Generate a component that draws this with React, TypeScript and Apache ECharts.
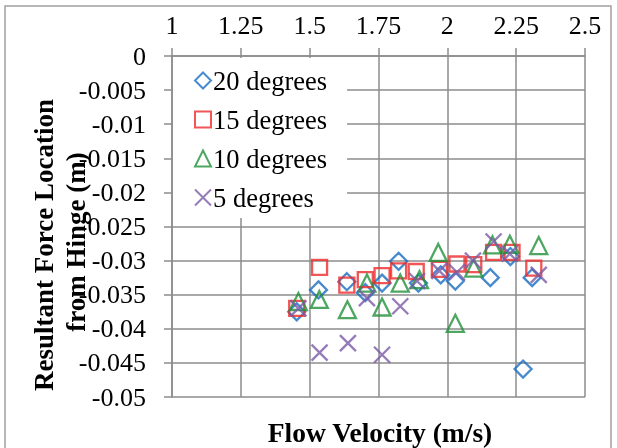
import React, { useEffect, useRef } from "react";
import * as echarts from "echarts";

const xTicks = [1, 1.25, 1.5, 1.75, 2, 2.25, 2.5];
const seriesNames = ["20 degrees", "15 degrees", "10 degrees", "5 degrees"];

const deg20X = [1.453, 1.532, 1.635, 1.702, 1.763, 1.823, 1.895, 1.976, 2.029, 2.156, 2.229, 2.275, 2.308];
const deg20Y = [-0.0375, -0.0343, -0.0331, -0.0347, -0.0333, -0.0301, -0.0333, -0.0321, -0.033, -0.0325, -0.0294, -0.0459, -0.0325];

const deg15X = [1.453, 1.536, 1.635, 1.702, 1.763, 1.823, 1.887, 1.971, 2.035, 2.096, 2.168, 2.235, 2.314];
const deg15Y = [-0.037, -0.031, -0.0336, -0.0328, -0.0322, -0.0315, -0.0316, -0.0313, -0.0305, -0.0306, -0.0288, -0.0288, -0.0311];

const deg10X = [1.459, 1.535, 1.637, 1.708, 1.763, 1.829, 1.899, 1.967, 2.029, 2.096, 2.164, 2.227, 2.332];
const deg10Y = [-0.036, -0.0357, -0.0372, -0.0333, -0.0368, -0.0333, -0.0328, -0.0288, -0.0392, -0.0311, -0.0277, -0.0276, -0.0278];

const deg5X = [1.459, 1.536, 1.639, 1.708, 1.763, 1.829, 1.89, 1.971, 2.035, 2.093, 2.168, 2.227, 2.332];
const deg5Y = [-0.037, -0.0435, -0.0421, -0.0355, -0.0438, -0.0367, -0.033, -0.0315, -0.0317, -0.03, -0.0272, -0.029, -0.0321];

const FONT = "'Liberation Serif', 'Times New Roman', serif";

function pairs(xs: number[], ys: number[]) {
  return xs.map((x, i) => [x, ys[i]]);
}

export default function App() {
  const ref = useRef<HTMLDivElement>(null);
  useEffect(() => {
    if (!ref.current) return;
    const chart = echarts.init(ref.current, null, { renderer: "svg" });
    const colors = ["#1a6dc2", "#ee2a2a", "#21913a", "#7b5ba6"];
    const symbols = ["diamond", "rect", "triangle", "path://M0,0L16,16M16,0L0,16"];
    const sizes: any[] = [[17, 17], [15, 15], [17, 17], [16, 16]];
    const datas = [pairs(deg20X, deg20Y), pairs(deg15X, deg15Y), pairs(deg10X, deg10Y), pairs(deg5X, deg5Y)];
    const gridColor = "#8c8c8c";
    chart.setOption({
      animation: false,
      grid: { left: 172, top: 56, width: 413, height: 341, containLabel: false },
      xAxis: {
        type: "value",
        position: "top",
        min: xTicks[0],
        max: xTicks[xTicks.length - 1],
        interval: 0.25,
        axisLine: { show: true, onZero: false, lineStyle: { color: gridColor, width: 1.5 } },
        axisTick: { show: true, length: 8, lineStyle: { color: gridColor, width: 1.5 } },
        splitLine: { show: true, lineStyle: { color: gridColor, width: 1.5 } },
        axisLabel: { fontFamily: FONT, fontSize: 26, color: "#000", margin: 18 },
      },
      yAxis: {
        type: "value",
        min: -0.05,
        max: 0,
        interval: 0.005,
        axisLine: { show: true, onZero: false, lineStyle: { color: gridColor, width: 1.5 } },
        axisTick: { show: true, length: 8, lineStyle: { color: gridColor, width: 1.5 } },
        splitLine: { show: true, lineStyle: { color: gridColor, width: 1.5 } },
        axisLabel: {
          fontFamily: FONT,
          fontSize: 26,
          color: "#000",
          margin: 26,
          formatter: (v: number) => String(parseFloat(v.toFixed(3))),
        },
      },
      legend: {
        orient: "vertical",
        left: 173,
        top: 58,
        backgroundColor: "#fff",
        padding: [9, 20, 7, 21],
        itemGap: 12,
        itemWidth: 16,
        itemHeight: 16,
        textStyle: { fontFamily: FONT, fontSize: 26.5, color: "#000", lineHeight: 25, padding: [0, 0, 0, -3] },
        data: seriesNames,
      },
      graphic: [
        {
          type: "rect",
          shape: { x: 5, y: 6, width: 606, height: 450 },
          style: { fill: "none", stroke: "#a0a0a0", lineWidth: 1.5 },
          silent: true,
        },
        {
          type: "text",
          x: 380,
          y: 432,
          style: {
            text: "Flow Velocity (m/s)",
            font: "bold 27.5px " + FONT,
            fill: "#000",
            textAlign: "center",
            textVerticalAlign: "middle",
          },
        },
        {
          type: "text",
          x: 44,
          y: 245,
          rotation: Math.PI / 2,
          style: {
            text: "Resultant Force Location",
            font: "bold 27px " + FONT,
            fill: "#000",
            textAlign: "center",
            textVerticalAlign: "middle",
          },
        },
        {
          type: "text",
          x: 76,
          y: 242,
          rotation: Math.PI / 2,
          style: {
            text: "from Hinge (m)",
            font: "bold 27px " + FONT,
            fill: "#000",
            textAlign: "center",
            textVerticalAlign: "middle",
          },
        },
      ],
      series: seriesNames.map((name, i) => ({
        name,
        type: "scatter",
        symbol: symbols[i],
        symbolSize: sizes[i],
        data: datas[i],
        itemStyle: { color: "rgba(255,255,255,0)", borderColor: colors[i], borderWidth: 2.3 },
        emphasis: { disabled: true },
      })),
    });
    return () => chart.dispose();
  }, []);
  return <div ref={ref} style={{ position: "fixed", left: 0, top: 0, width: 617, height: 448 }} />;
}
